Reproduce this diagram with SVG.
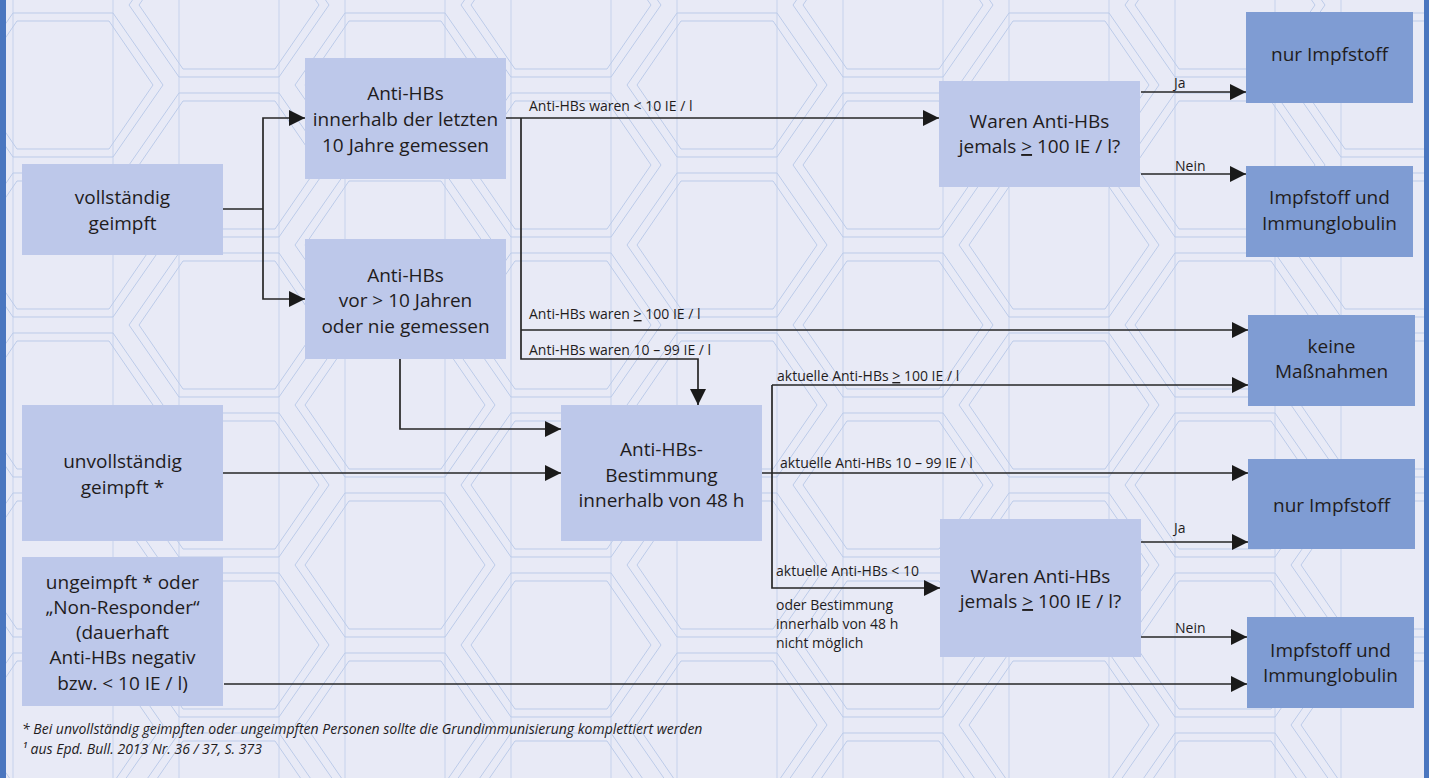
<svg xmlns="http://www.w3.org/2000/svg" width="1429" height="778" viewBox="0 0 1429 778">
<defs>
<style>
.bg{fill:#e8eaf6}
.hx{fill:none;stroke:#bccbe9;stroke-width:1}
.vl{stroke:#c6d2ec;stroke-width:1}
.lt{fill:#bdc8ea}
.dk{fill:#7f9cd3}
.nt{font-family:"Open Sans","Liberation Sans",sans-serif;font-size:19px;fill:#1f1c1d;text-anchor:middle}
.lb{font-family:"Open Sans","Liberation Sans",sans-serif;font-size:14px;fill:#1f1c1d}
.fn{font-family:"Open Sans","Liberation Sans",sans-serif;font-size:14px;font-style:italic;fill:#1f1c1d}
.cn{fill:none;stroke:#262626;stroke-width:1.7}
.u{text-decoration:underline}
</style>
<marker id="ah" markerUnits="userSpaceOnUse" markerWidth="16" markerHeight="16" refX="16" refY="8" orient="auto">
<path d="M0,0 L16,8 L0,16 Z" fill="#1a1a1a"/>
</marker>
<pattern id="hex" patternUnits="userSpaceOnUse" x="63" y="5" width="332" height="160">
<path class="vl" d="M50,0 V160 M116,0 V160 M216,0 V160 M282,0 V160"/>
<path class="hx" d="M-100,80 L-50,8 L50,8 L100,80 L50,152 L-50,152 Z M-90,80 L-46,16 L46,16 L90,80 L46,144 L-46,144 Z"/>
<path class="hx" d="M232,80 L282,8 L382,8 L432,80 L382,152 L282,152 Z M242,80 L286,16 L378,16 L422,80 L378,144 L286,144 Z"/>
<path class="hx" d="M66,0 L116,-72 L216,-72 L266,0 L216,72 L116,72 Z M76,0 L120,-64 L212,-64 L256,0 L212,64 L120,64 Z"/>
<path class="hx" d="M66,160 L116,88 L216,88 L266,160 L216,232 L116,232 Z M76,160 L120,96 L212,96 L256,160 L212,224 L120,224 Z"/>
</pattern>
</defs>
<rect class="bg" x="0" y="0" width="1429" height="778"/>
<rect x="0" y="0" width="1429" height="778" fill="url(#hex)"/>
<rect x="0" y="0" width="6" height="778" fill="#4a76bf"/>
<rect x="1424" y="0" width="5" height="778" fill="#4a76bf"/>

<g id="connectors">
<path class="cn" d="M223,209 H263"/>
<path class="cn" d="M263,209 V118 H305" marker-end="url(#ah)"/>
<path class="cn" d="M263,209 V299 H305" marker-end="url(#ah)"/>
<path class="cn" d="M506,118 H939" marker-end="url(#ah)"/>
<path class="cn" d="M521,118 V359 H698 V405" marker-end="url(#ah)"/>
<path class="cn" d="M521,330 H1248" marker-end="url(#ah)"/>
<path class="cn" d="M400,359 V429 H561" marker-end="url(#ah)"/>
<path class="cn" d="M223,473 H561" marker-end="url(#ah)"/>
<path class="cn" d="M762,473 H1248" marker-end="url(#ah)"/>
<path class="cn" d="M772,385 V588 H940" marker-end="url(#ah)"/>
<path class="cn" d="M772,385 H1248" marker-end="url(#ah)"/>
<path class="cn" d="M1141,92 H1246" marker-end="url(#ah)"/>
<path class="cn" d="M1141,174 H1246" marker-end="url(#ah)"/>
<path class="cn" d="M1141,542 H1248" marker-end="url(#ah)"/>
<path class="cn" d="M1141,637 H1247" marker-end="url(#ah)"/>
<path class="cn" d="M224,684 H1247" marker-end="url(#ah)"/>
<text class="lb" x="529" y="111">Anti-HBs waren &lt; 10 IE / l</text>
<text class="lb" x="529" y="319">Anti-HBs waren <tspan class="u">&gt;</tspan> 100 IE / l</text>
<text class="lb" x="529" y="355">Anti-HBs waren 10 – 99 IE / l</text>
<text class="lb" x="777" y="381">aktuelle Anti-HBs <tspan class="u">&gt;</tspan> 100 IE / l</text>
<text class="lb" x="780" y="468">aktuelle Anti-HBs 10 – 99 IE / l</text>
<text class="lb" x="776" y="576">aktuelle Anti-HBs &lt; 10</text>
<text class="lb" x="776" y="610">oder Bestimmung</text>
<text class="lb" x="776" y="629">innerhalb von 48 h</text>
<text class="lb" x="776" y="648">nicht möglich</text>
<text class="lb" x="1174" y="88">Ja</text>
<text class="lb" x="1175" y="171">Nein</text>
<text class="lb" x="1174" y="533">Ja</text>
<text class="lb" x="1175" y="633">Nein</text>
</g>

<g id="n-vollstaendig">
<rect class="lt" x="22" y="164" width="201" height="91"/>
<text class="nt" x="122.5" y="204">vollständig</text>
<text class="nt" x="122.5" y="230">geimpft</text>
</g>
<g id="n-innerhalb10">
<rect class="lt" x="305" y="58" width="201" height="121"/>
<text class="nt" x="405.5" y="100">Anti-HBs</text>
<text class="nt" x="405.5" y="126">innerhalb der letzten</text>
<text class="nt" x="405.5" y="152">10 Jahre gemessen</text>
</g>
<g id="n-vor10">
<rect class="lt" x="305" y="239" width="201" height="120"/>
<text class="nt" x="405.5" y="282">Anti-HBs</text>
<text class="nt" x="405.5" y="307">vor &gt; 10 Jahren</text>
<text class="nt" x="405.5" y="333">oder nie gemessen</text>
</g>
<g id="n-unvollstaendig">
<rect class="lt" x="22" y="405" width="201" height="136"/>
<text class="nt" x="122.5" y="468">unvollständig</text>
<text class="nt" x="122.5" y="494">geimpft *</text>
</g>
<g id="n-ungeimpft">
<rect class="lt" x="22" y="557" width="201" height="149"/>
<text class="nt" x="122.5" y="589">ungeimpft * oder</text>
<text class="nt" x="122.5" y="614">„Non-Responder“</text>
<text class="nt" x="122.5" y="639">(dauerhaft</text>
<text class="nt" x="122.5" y="664">Anti-HBs negativ</text>
<text class="nt" x="122.5" y="690">bzw. &lt; 10 IE / l)</text>
</g>
<g id="n-bestimmung">
<rect class="lt" x="561" y="405" width="201" height="136"/>
<text class="nt" x="661.5" y="456">Anti-HBs-</text>
<text class="nt" x="661.5" y="482">Bestimmung</text>
<text class="nt" x="661.5" y="507">innerhalb von 48 h</text>
</g>
<g id="n-waren1">
<rect class="lt" x="939" y="81" width="201" height="106"/>
<text class="nt" x="1039.5" y="128">Waren Anti-HBs</text>
<text class="nt" x="1039.5" y="153">jemals <tspan class="u">&gt;</tspan> 100 IE / l?</text>
</g>
<g id="n-waren2">
<rect class="lt" x="940" y="519" width="201" height="138"/>
<text class="nt" x="1040.5" y="583">Waren Anti-HBs</text>
<text class="nt" x="1040.5" y="608">jemals <tspan class="u">&gt;</tspan> 100 IE / l?</text>
</g>
<g id="n-nurimpf1">
<rect class="dk" x="1246" y="12" width="167" height="91"/>
<text class="nt" x="1329.5" y="61">nur Impfstoff</text>
</g>
<g id="n-impfimmun1">
<rect class="dk" x="1246" y="166" width="167" height="91"/>
<text class="nt" x="1329.5" y="204">Impfstoff und</text>
<text class="nt" x="1329.5" y="230">Immunglobulin</text>
</g>
<g id="n-keine">
<rect class="dk" x="1248" y="315" width="167" height="91"/>
<text class="nt" x="1331.5" y="353">keine</text>
<text class="nt" x="1331.5" y="378">Maßnahmen</text>
</g>
<g id="n-nurimpf2">
<rect class="dk" x="1248" y="459" width="167" height="90"/>
<text class="nt" x="1331.5" y="512">nur Impfstoff</text>
</g>
<g id="n-impfimmun2">
<rect class="dk" x="1247" y="617" width="167" height="91"/>
<text class="nt" x="1330.5" y="657">Impfstoff und</text>
<text class="nt" x="1330.5" y="682">Immunglobulin</text>
</g>

<g id="footnote">
<text class="fn" x="22" y="734">* Bei unvollständig geimpften oder ungeimpften Personen sollte die Grundimmunisierung komplettiert werden</text>
<text class="fn" x="22" y="754">¹ aus Epd. Bull. 2013 Nr. 36 / 37, S. 373</text>
</g>
</svg>
